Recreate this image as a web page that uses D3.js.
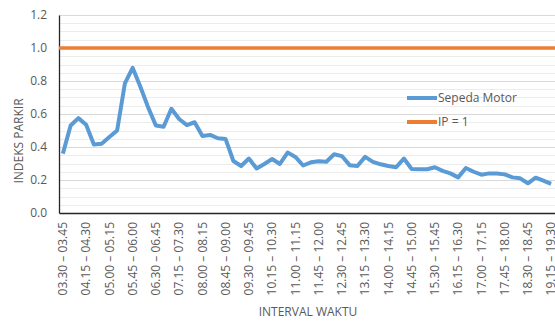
<!DOCTYPE html>
<html>
<head>
<meta charset="utf-8">
<script src="https://cdn.jsdelivr.net/npm/d3@7"></script>
<style>
  html, body { margin: 0; padding: 0; background: #fff; }
  svg { display: block; }
  text { font-family: "Open Sans", "Liberation Sans", sans-serif; fill: #595959; }
</style>
</head>
<body>
<svg id="chart" width="555" height="322"></svg>
<script>
// 15-minute intervals from 03.30 to 19.30
const intervals = [
  "03.30 – 03.45","03.45 – 04.00","04.00 – 04.15","04.15 – 04.30","04.30 – 04.45","04.45 – 05.00",
  "05.00 – 05.15","05.15 – 05.30","05.30 – 05.45","05.45 – 06.00","06.00 – 06.15","06.15 – 06.30",
  "06.30 – 06.45","06.45 – 07.00","07.00 – 07.15","07.15 – 07.30","07.30 – 07.45","07.45 – 08.00",
  "08.00 – 08.15","08.15 – 08.30","08.30 – 08.45","08.45 – 09.00","09.00 – 09.15","09.15 – 09.30",
  "09.30 – 09.45","09.45 – 10.00","10.00 – 10.15","10.15 – 10.30","10.30 – 10.45","10.45 – 11.00",
  "11.00 – 11.15","11.15 – 11.30","11.30 – 11.45","11.45 – 12.00","12.00 – 12.15","12.15 – 12.30",
  "12.30 – 12.45","12.45 – 13.00","13.00 – 13.15","13.15 – 13.30","13.30 – 13.45","13.45 – 14.00",
  "14.00 – 14.15","14.15 – 14.30","14.30 – 14.45","14.45 – 15.00","15.00 – 15.15","15.15 – 15.30",
  "15.30 – 15.45","15.45 – 16.00","16.00 – 16.15","16.15 – 16.30","16.30 – 16.45","16.45 – 17.00",
  "17.00 – 17.15","17.15 – 17.30","17.30 – 17.45","17.45 – 18.00","18.00 – 18.15","18.15 – 18.30",
  "18.30 – 18.45","18.45 – 19.00","19.00 – 19.15","19.15 – 19.30"
];

// Parking index for motorcycles per interval
const sepedaMotor = [
  0.36, 0.53, 0.575, 0.535, 0.415, 0.42, 0.46, 0.50, 0.785, 0.88,
  0.765, 0.64, 0.53, 0.523, 0.632, 0.57, 0.533, 0.55, 0.467, 0.473,
  0.453, 0.448, 0.315, 0.285, 0.33, 0.27, 0.297, 0.327, 0.297, 0.366,
  0.34, 0.288, 0.307, 0.313, 0.311, 0.356, 0.345, 0.29, 0.285, 0.34,
  0.31, 0.295, 0.285, 0.277, 0.33, 0.267, 0.265, 0.265, 0.277, 0.255,
  0.24, 0.216, 0.273, 0.25, 0.232, 0.24, 0.24, 0.234, 0.216, 0.21,
  0.18, 0.214, 0.196, 0.176
];

// Reference level IP = 1
const ipValue = 1;

const yTicks = [0, 0.2, 0.4, 0.6, 0.8, 1.0, 1.2];
const seriesNames = ["Sepeda Motor", "IP = 1"];
const colors = ["#5B9BD5", "#ED7D31"];

const svg = d3.select("#chart");
const plotLeft = 59, plotRight = 555, plotTop = 15, plotBottom = 213;

const x = d3.scaleBand().domain(intervals).range([plotLeft, plotRight]);
const y = d3.scaleLinear().domain([0, 1.2]).range([plotBottom, plotTop]);

// minor gridlines
const minor = d3.range(0, 1.2001, 0.05).filter(v => Math.abs(v / 0.2 - Math.round(v / 0.2)) > 1e-6);
svg.append("g").selectAll("line").data(minor).join("line")
  .attr("x1", plotLeft).attr("x2", plotRight)
  .attr("y1", d => Math.round(y(d)) + 0.5).attr("y2", d => Math.round(y(d)) + 0.5)
  .attr("stroke", "#ececec").attr("stroke-width", 1);

// major gridlines
svg.append("g").selectAll("line").data(yTicks.slice(1)).join("line")
  .attr("x1", plotLeft).attr("x2", plotRight)
  .attr("y1", d => Math.round(y(d)) + 0.5).attr("y2", d => Math.round(y(d)) + 0.5)
  .attr("stroke", "#d9d9d9").attr("stroke-width", 1);

// y axis
const yAxis = svg.append("g").attr("transform", `translate(${plotLeft},0)`)
  .call(d3.axisLeft(y).tickValues(yTicks).tickFormat(d3.format(".1f")).tickSize(0).tickPadding(12));
yAxis.select(".domain").attr("stroke", "#262626").attr("stroke-width", 1.3);
yAxis.selectAll("text").attr("font-size", 12).attr("fill", "#595959")
  .style("font-family", "'Open Sans', sans-serif");

// x axis
const xAxis = svg.append("g").attr("transform", `translate(0,${plotBottom})`)
  .call(d3.axisBottom(x).tickValues(intervals.filter((d, i) => i % 3 === 0)).tickSize(0).tickPadding(0));
xAxis.select(".domain").attr("stroke", "#262626").attr("stroke-width", 1.3);
xAxis.selectAll("text")
  .attr("font-size", 12).attr("fill", "#595959")
  .style("font-family", "'Open Sans', sans-serif")
  .attr("text-anchor", "end")
  .attr("transform", "rotate(-90)")
  .attr("x", -9).attr("y", 0).attr("dy", "0.35em");

// IP = 1 line
svg.append("line")
  .attr("x1", plotLeft).attr("x2", plotRight)
  .attr("y1", y(ipValue)).attr("y2", y(ipValue))
  .attr("stroke", colors[1]).attr("stroke-width", 3.5);

// motorcycle parking index line
const line = d3.line()
  .x((d, i) => x(intervals[i]) + x.bandwidth() / 2)
  .y(d => y(d));
svg.append("path").datum(sepedaMotor)
  .attr("d", line)
  .attr("fill", "none")
  .attr("stroke", colors[0]).attr("stroke-width", 4)
  .attr("stroke-linejoin", "round");

// legend
const legend = svg.append("g").attr("transform", "translate(407,98)");
seriesNames.forEach((name, i) => {
  const g = legend.append("g").attr("transform", `translate(0,${i * 24})`);
  g.append("line").attr("x1", 0).attr("x2", 30).attr("y1", 0).attr("y2", 0)
    .attr("stroke", colors[i]).attr("stroke-width", 4);
  g.append("text").attr("x", 31).attr("y", 0).attr("dy", "0.35em")
    .attr("font-size", 12).text(name);
});

// axis titles
svg.append("text")
  .attr("transform", "translate(19,141) rotate(-90)")
  .attr("text-anchor", "middle").attr("dy", "0.35em")
  .attr("font-size", 12).text("INDEKS PARKIR");

svg.append("text")
  .attr("x", 308).attr("y", 312).attr("dy", "0.35em")
  .attr("text-anchor", "middle")
  .attr("font-size", 12).text("INTERVAL WAKTU");
</script>
</body>
</html>
